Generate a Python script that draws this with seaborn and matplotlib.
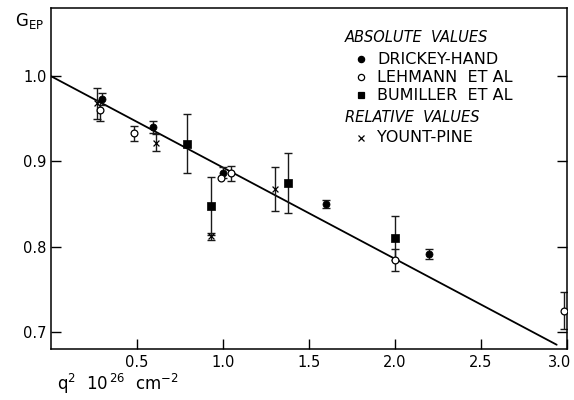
import matplotlib
matplotlib.use("Agg")
import matplotlib.pyplot as plt
import matplotlib.transforms as mtransforms
import seaborn as sns
import pandas as pd

sns.set_theme(style="ticks")
plt.rcParams["font.family"] = ["DejaVu Sans"]
plt.rcParams["mathtext.fontset"] = "dejavusans"

# Drickey-Hand (absolute values)
dh_q2 = [0.295, 0.595, 1.00, 1.60, 2.20]
dh_g = [0.973, 0.940, 0.887, 0.850, 0.791]
dh_err = [0.007, 0.007, 0.006, 0.005, 0.006]

# Lehmann et al (absolute values); 0 means no error bar drawn
le_q2 = [0.285, 0.485, 0.99, 1.045, 2.00, 2.985]
le_g = [0.960, 0.933, 0.881, 0.886, 0.784, 0.725]
le_err = [0.012, 0.009, 0.0, 0.009, 0.013, 0.022]

# Bumiller et al (absolute values)
bu_q2 = [0.79, 0.93, 1.38, 2.00]
bu_g = [0.921, 0.848, 0.875, 0.810]
bu_err = [0.035, 0.034, 0.035, 0.026]

# Yount-Pine (relative values)
yp_q2 = [0.27, 0.61, 0.93, 1.30]
yp_g = [0.968, 0.922, 0.812, 0.868]
yp_err = [0.018, 0.010, 0.004, 0.026]

# Straight-line fit through G(0) = 1
fit_q2 = [0.0, 2.94]
fit_g = [1.0, 0.685]

x_ticks = [0.5, 1.0, 1.5, 2.0, 2.5, 3.0]
x_tick_labels = ["0.5", "1.0", "1.5", "2.0", "2.5", "3.0"]
y_ticks = [0.7, 0.8, 0.9, 1.0]
y_tick_labels = ["0.7", "0.8", "0.9", "1.0"]

fig = plt.figure(figsize=(5.74, 4.0), dpi=100)
ax = fig.add_axes([51 / 574, 51 / 400, 516 / 574, 341 / 400])

sns.lineplot(x=fit_q2, y=fit_g, ax=ax, color="black", linewidth=1.3)

ink = "#1a1a1a"
for q, g, e in [(dh_q2, dh_g, dh_err), (le_q2, le_g, le_err),
                (bu_q2, bu_g, bu_err), (yp_q2, yp_g, yp_err)]:
    keep = [i for i, v in enumerate(e) if v > 0]
    ax.errorbar([q[i] for i in keep], [g[i] for i in keep],
                yerr=[e[i] for i in keep], fmt="none", ecolor=ink,
                elinewidth=1.0, capsize=3, capthick=1.0)

dh = pd.DataFrame({"q2": dh_q2, "g": dh_g})
le = pd.DataFrame({"q2": le_q2, "g": le_g})
bu = pd.DataFrame({"q2": bu_q2, "g": bu_g})
yp = pd.DataFrame({"q2": yp_q2, "g": yp_g})

sns.scatterplot(data=dh, x="q2", y="g", ax=ax, marker="o", s=26,
                color="black", edgecolor="black", linewidth=0.5, zorder=5)
sns.scatterplot(data=le, x="q2", y="g", ax=ax, marker="o", s=24,
                facecolor="white", edgecolor="black", linewidth=0.9, zorder=5)
sns.scatterplot(data=bu, x="q2", y="g", ax=ax, marker="s", s=32,
                color="black", edgecolor="black", linewidth=0.5, zorder=5)
sns.scatterplot(data=yp, x="q2", y="g", ax=ax, marker="x", s=18,
                color="black", linewidth=0.9, zorder=5)

ax.set_xlim(0.0, 3.0)
ax.set_ylim(0.68, 1.08)
ax.set_xticks(x_ticks)
ax.set_xticklabels(x_tick_labels)
ax.set_yticks(y_ticks)
ax.set_yticklabels(y_tick_labels)
ax.tick_params(direction="in", length=7, width=1.0, colors="black",
               labelsize=10.5, right=True, pad=4)
ax.tick_params(axis="y", pad=3)
for side in ["left", "right", "top", "bottom"]:
    ax.spines[side].set_visible(True)
    ax.spines[side].set_color("black")
    ax.spines[side].set_linewidth(1.1)
ax.set_xlabel("")
ax.set_ylabel("")

# Keep the last x tick label inside the figure edge
last = ax.get_xticklabels()[-1]
last.set_transform(last.get_transform() +
                   mtransforms.ScaledTranslation(-7 / 100, 0,
                                                 fig.dpi_scale_trans))

# Axis titles
fig.text(15 / 574, 1 - 21 / 400, r"G$_{\mathrm{EP}}$", fontsize=12,
         ha="left", va="center", color="black")
fig.text(57 / 574, 1 - 384 / 400, r"q$^{2}$  10$^{\,26}$  cm$^{-2}$",
         fontsize=12, ha="left", va="center", color="black")

# Hand-lettered key
key_x_mark = 361 / 574
key_x_text = 377 / 574
fig.text(345 / 574, 1 - 37 / 400, "ABSOLUTE  VALUES", fontsize=10.5,
         style="italic", ha="left", va="center", color="black")
fig.text(345 / 574, 1 - 118 / 400, "RELATIVE  VALUES", fontsize=10.5,
         style="italic", ha="left", va="center", color="black")
key_rows = [
    (59, "o", "black", "DRICKEY-HAND"),
    (77, "o", "white", "LEHMANN  ET AL"),
    (95, "s", "black", "BUMILLER  ET AL"),
    (138, "x", "black", "YOUNT-PINE"),
]
for ypix, mk, fc, label in key_rows:
    yf = 1 - ypix / 400
    if mk == "x":
        fig.lines.append(plt.Line2D([key_x_mark], [yf], marker="x",
                                    markersize=4.5, color="black",
                                    markeredgewidth=0.9, linestyle="none",
                                    transform=fig.transFigure))
    else:
        fig.lines.append(plt.Line2D([key_x_mark], [yf], marker=mk,
                                    markersize=4.5 if mk == "o" else 5,
                                    markerfacecolor=fc,
                                    markeredgecolor="black",
                                    markeredgewidth=0.9, linestyle="none",
                                    transform=fig.transFigure))
    fig.text(key_x_text, yf, label, fontsize=11.5, ha="left", va="center",
             color="black")

fig.savefig("out.png", dpi=100, facecolor="white")
